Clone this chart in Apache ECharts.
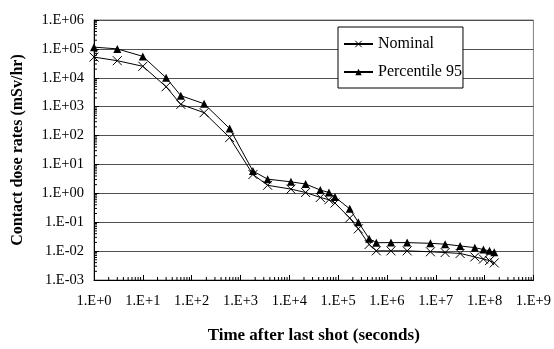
<!DOCTYPE html>
<html>
<head>
<meta charset="utf-8">
<script src="https://cdn.jsdelivr.net/npm/echarts@6/dist/echarts.min.js"></script>
<style>
  html, body { margin: 0; padding: 0; background: #fff; }
  #chart { width: 554px; height: 349px; }
</style>
</head>
<body>
<div id="chart"></div>
<script>
// time after last shot (s)
var times = [1, 3, 10, 30, 60, 180, 600, 1800, 3600, 10800, 21600, 43200, 64800, 86400,
    172800, 259200, 432000, 604800, 1209600, 2592000, 7776000, 15552000, 31536000,
    63072000, 94608000, 126144000, 157680000];
// contact dose rates (mSv/hr)
var nominal = [5.2e4, 3.9e4, 2.5e4, 4.9e3, 1.2e3, 620, 85, 4.5, 1.9, 1.4, 1.07, 0.72, 0.6, 0.46,
    0.14, 0.059, 0.017, 0.0102, 0.0102, 0.0102, 0.0095, 0.0089, 0.0083, 0.0063, 0.0053, 0.0047, 0.0039];
var p95 = [1.15e5, 1.0e5, 5.5e4, 1.0e4, 2.4e3, 1.26e3, 175, 5.9, 3.1, 2.5, 2.1, 1.3, 1.07, 0.74,
    0.29, 0.1, 0.027, 0.0195, 0.0197, 0.0197, 0.0186, 0.0174, 0.0151, 0.0132, 0.0113, 0.0102, 0.0092];

// minor ticks for the log axes (2..9 x 10^k)
var xMinor = [], yMinor = [];
for (var k = 0; k < 9; k++) for (var m = 2; m <= 9; m++) xMinor.push(m * Math.pow(10, k));
for (var k = -3; k < 6; k++) for (var m = 2; m <= 9; m++) yMinor.push(m * Math.pow(10, k));

var font = '"Liberation Serif", "Times New Roman", serif';
var crossPath = 'path://M0,0L10,10M10,0L0,10';

function pairs(xs, ys) {
    return xs.map(function (x, i) { return [x, ys[i]]; });
}

function yFmt(v) {
    var e = Math.round(Math.log10(v));
    return '1.E' + (e < 0 ? '-' : '+') + (Math.abs(e) < 10 ? '0' : '') + Math.abs(e);
}
function xFmt(v) {
    var e = Math.round(Math.log10(v));
    return '1.E+' + e;
}

var chart = echarts.init(document.getElementById('chart'));
var option = {
    animation: false,
    textStyle: { fontFamily: font },
    grid: { left: 94, right: 17, top: 20, bottom: 67, show: true, borderColor: '#808080', borderWidth: 1 },
    legend: {
        data: ['Nominal', 'Percentile 95'],
        orient: 'vertical',
        left: 338, top: 27,
        padding: [9, 1, 8, 5],
        itemGap: 12,
        itemWidth: 29, itemHeight: 8,
        backgroundColor: '#fff',
        borderColor: '#000', borderWidth: 1,
        itemStyle: { borderWidth: 1 },
        textStyle: { fontFamily: font, fontSize: 16, color: '#000' }
    },
    xAxis: {
        type: 'log', logBase: 10, min: 1, max: 1e9, splitNumber: 9,
        name: 'Time after last shot (seconds)',
        nameLocation: 'middle', nameGap: 47,
        nameTextStyle: { fontFamily: font, fontSize: 17, fontWeight: 'bold', color: '#000' },
        axisLine: { lineStyle: { color: '#000' } },
        axisTick: { inside: true, length: 5, lineStyle: { color: '#000' } },
        axisLabel: { formatter: xFmt, fontFamily: font, fontSize: 14.5, color: '#000', margin: 14 },
        splitLine: { show: false }
    },
    yAxis: {
        type: 'log', logBase: 10, min: 1e-3, max: 1e6, splitNumber: 9,
        name: 'Contact dose rates (mSv/hr)',
        nameLocation: 'middle', nameGap: 68,
        nameTextStyle: { fontFamily: font, fontSize: 16, fontWeight: 'bold', color: '#000' },
        axisLine: { lineStyle: { color: '#000' } },
        axisTick: { inside: true, length: 5, lineStyle: { color: '#000' } },
        axisLabel: { formatter: yFmt, fontFamily: font, fontSize: 14.5, color: '#000', margin: 10 },
        splitLine: { show: true, lineStyle: { color: '#505050', width: 1 } }
    },
    series: [
        {
            name: 'Nominal', type: 'line',
            data: pairs(times, nominal),
            symbol: crossPath, symbolSize: 9,
            lineStyle: { color: '#000', width: 1 },
            itemStyle: { color: '#000', borderColor: '#000', borderWidth: 1 },
            z: 3
        },
        {
            name: 'Percentile 95', type: 'line',
            data: pairs(times, p95),
            symbol: 'triangle', symbolSize: 8,
            lineStyle: { color: '#000', width: 1 },
            itemStyle: { color: '#000' },
            z: 3
        },
        {
            name: 'xminor', type: 'custom', silent: true, clip: false,
            data: xMinor,
            encode: { x: 0 },
            renderItem: function (params, api) {
                var p = api.coord([api.value(0), 1e-3]);
                return { type: 'line', shape: { x1: p[0], y1: p[1], x2: p[0], y2: p[1] - 3 },
                    style: { stroke: '#000', lineWidth: 1 } };
            }
        },
        {
            name: 'yminor', type: 'custom', silent: true, clip: false,
            data: yMinor.map(function (v) { return [1, v]; }),
            encode: { x: 0, y: 1 },
            renderItem: function (params, api) {
                var p = api.coord([1, api.value(1)]);
                return { type: 'line', shape: { x1: p[0], y1: p[1], x2: p[0] + 3, y2: p[1] },
                    style: { stroke: '#000', lineWidth: 1 } };
            }
        }
    ]
};
chart.setOption(option);
</script>
</body>
</html>
